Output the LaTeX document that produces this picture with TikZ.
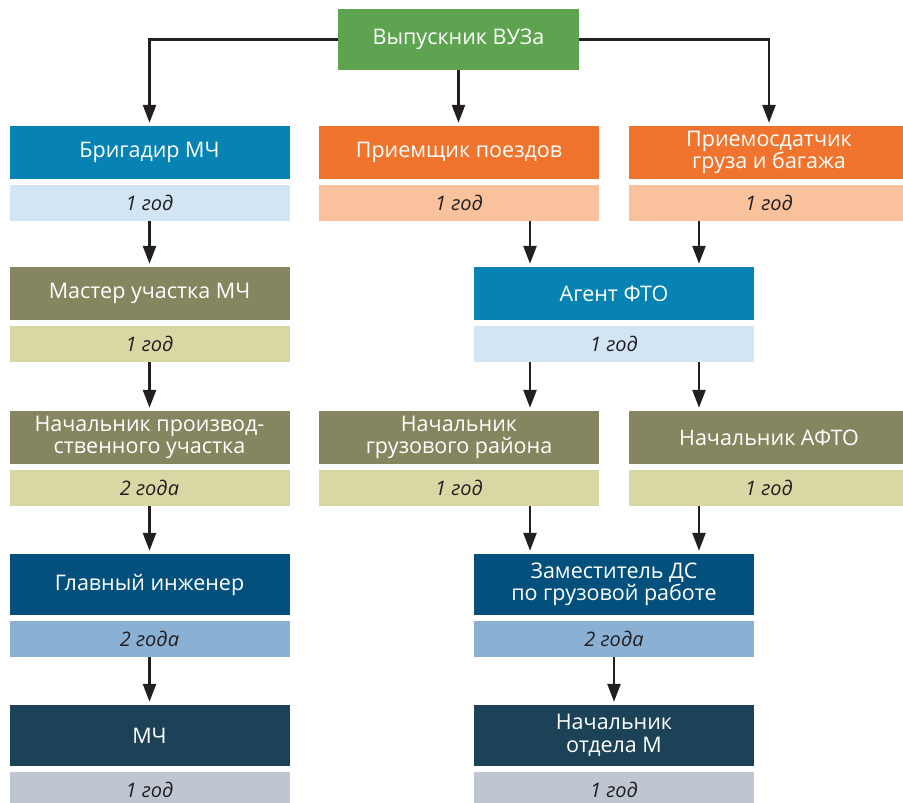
\documentclass[tikz,border=0pt]{standalone}
\usepackage{fontspec}
\setmainfont{Open Sans}
\usetikzlibrary{positioning, arrows.meta}

\definecolor{vuzgreen}{HTML}{5EA34F}
\definecolor{cyanblue}{HTML}{0683B3}
\definecolor{cyanlight}{HTML}{D2E5F5}
\definecolor{orng}{HTML}{F1742E}
\definecolor{ornglight}{HTML}{F9C29C}
\definecolor{olive}{HTML}{85865F}
\definecolor{olivelight}{HTML}{D8D8A5}
\definecolor{navy}{HTML}{03507C}
\definecolor{navylight}{HTML}{8AB0D4}
\definecolor{slate}{HTML}{1C4257}
\definecolor{slatelight}{HTML}{BEC6D2}
\definecolor{ink}{HTML}{231F20}

\tikzstyle{post} = [rectangle, minimum width=280pt, minimum height=53pt, inner sep=0pt, text=white, align=center, font=\fontsize{21.5}{22.5}\selectfont]
\tikzstyle{tallpost} = [post, minimum height=61pt]
\tikzstyle{term} = [rectangle, minimum width=280pt, minimum height=36pt, inner sep=0pt, text=ink, font=\fontsize{20}{22}\selectfont\itshape, below=5.5pt of #1]
\tikzstyle{arrow} = [line width=2.6pt, draw=ink, -{Triangle[length=18pt,width=13pt]}, shorten >=3pt]

\begin{document}
\begin{tikzpicture}[x=1pt, y=-1pt]
\useasboundingbox (0,0) rectangle (903,803);

\node (vuz) [post, fill=vuzgreen, minimum width=241pt, minimum height=61pt] at (458.5,39.5) {Выпускник ВУЗа};

% first posts
\node (brig) [post, fill=cyanblue] at (149.5,152.5) {Бригадир МЧ};
\node (brigS) [term=brig, fill=cyanlight] {1 год};
\node (priem) [post, fill=orng] at (459,152.5) {Приемщик поездов};
\node (priemS) [term=priem, fill=ornglight] {1 год};
\node (priemsd) [post, fill=orng] at (769,152.5) {Приемосдатчик\\груза и багажа};
\node (priemsdS) [term=priemsd, fill=ornglight] {1 год};

\node (master) [post, fill=olive] at (149.5,293.5) {Мастер участка МЧ};
\node (masterS) [term=master, fill=olivelight] {1 год};
\node (agent) [post, fill=cyanblue] at (614,293.5) {Агент ФТО};
\node (agentS) [term=agent, fill=cyanlight] {1 год};

\node (nachpr) [post, fill=olive] at (149.5,437.5) {Начальник производ-\\ственного участка};
\node (nachprS) [term=nachpr, fill=olivelight] {2 года};
\node (nachgr) [post, fill=olive] at (459,437.5) {Начальник\\грузового района};
\node (nachgrS) [term=nachgr, fill=olivelight] {1 год};
\node (nachafto) [post, fill=olive] at (769,437.5) {Начальник АФТО};
\node (nachaftoS) [term=nachafto, fill=olivelight] {1 год};

\node (glav) [tallpost, fill=navy] at (149.5,584.5) {Главный инженер};
\node (glavS) [term=glav, fill=navylight] {2 года};
\node (zamds) [tallpost, fill=navy] at (614,584.5) {Заместитель ДС\\по грузовой работе};
\node (zamdsS) [term=zamds, fill=navylight] {2 года};

\node (mch) [tallpost, fill=slate] at (149.5,735.5) {МЧ};
\node (mchS) [term=mch, fill=slatelight] {1 год};
\node (nachm) [tallpost, fill=slate] at (614,735.5) {Начальник\\отдела М};
\node (nachmS) [term=nachm, fill=slatelight] {1 год};

\coordinate (cl) at (530,0);
\coordinate (cr) at (699,0);

\draw [arrow] (vuz.west) -| (brig.north);
\draw [arrow] (vuz.south) -- (vuz.south |- priem.north);
\draw [arrow] (vuz.east) -| (priemsd.north);

\draw [arrow] (brigS) -- (master);
\draw [arrow] (masterS) -- (nachpr);
\draw [arrow] (nachprS) -- (glav);
\draw [arrow] (glavS) -- (mch);

\draw [arrow] (priemS.south -| cl) -- (agent.north -| cl);
\draw [arrow] (priemsdS.south -| cr) -- (agent.north -| cr);
\draw [arrow] (agentS.south -| cl) -- (nachgr.north -| cl);
\draw [arrow] (agentS.south -| cr) -- (nachafto.north -| cr);
\draw [arrow] (nachgrS.south -| cl) -- (zamds.north -| cl);
\draw [arrow] (nachaftoS.south -| cr) -- (zamds.north -| cr);
\draw [arrow] (zamdsS) -- (nachm);

\end{tikzpicture}
\end{document}
